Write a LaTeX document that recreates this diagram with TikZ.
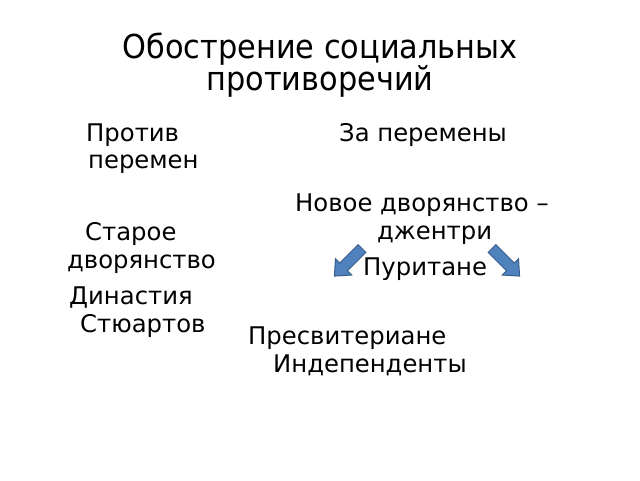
\documentclass[tikz,border=0pt]{standalone}
\usepackage{fontspec}
\setmainfont{DejaVu Sans}
\definecolor{arrowfill}{HTML}{4F81BD}
\definecolor{arrowline}{HTML}{385D8A}
\newcommand{\titletext}[1]{\scalebox{0.92}[1]{#1}}
\begin{document}
\begin{tikzpicture}[x=1pt,y=-1pt,
  title/.style={anchor=base,inner sep=0pt,font=\fontsize{33}{33}\selectfont},
  body/.style={anchor=base west,inner sep=0pt,font=\fontsize{24.3}{24.3}\selectfont},
  blockarrow/.style={fill=arrowfill,draw=arrowline,line width=1pt,line join=miter}]
\useasboundingbox[fill=white] (0,0) rectangle (640,480);
% title
\node[title] (t1) at (320,58) {\titletext{Обострение социальных}};
\node[title] (t2) at (320,90) {\titletext{противоречий}};
% left column
\node[body] (l1) at (86,141) {Против};
\node[body] (l2) at (88,168) {перемен};
\node[body] (l3) at (85,240) {Старое};
\node[body] (l4) at (67,268) {дворянство};
\node[body] (l5) at (69,304) {Династия};
\node[body] (l6) at (80,332) {Стюартов};
% right column
\node[body] (r1) at (339,141) {За перемены};
\node[body] (r2) at (295,211) {Новое дворянство –};
\node[body] (r3) at (377,239) {джентри};
\node[body] (r4) at (363,275) {Пуритане};
\node[body] (r5) at (248,344) {Пресвитериане};
\node[body] (r6) at (273,372) {Индепенденты};
% arrows
\begin{scope}[shift={(362,248.5)},rotate=-135]
\draw[blockarrow] (0,-5.5) -- (26,-5.5) -- (26,-11.5) -- (39,0) -- (26,11.5) -- (26,5.5) -- (0,5.5) -- cycle;
\end{scope}
\begin{scope}[shift={(492,248.5)},rotate=-45]
\draw[blockarrow] (0,-5.5) -- (26,-5.5) -- (26,-11.5) -- (39,0) -- (26,11.5) -- (26,5.5) -- (0,5.5) -- cycle;
\end{scope}
\end{tikzpicture}
\end{document}
